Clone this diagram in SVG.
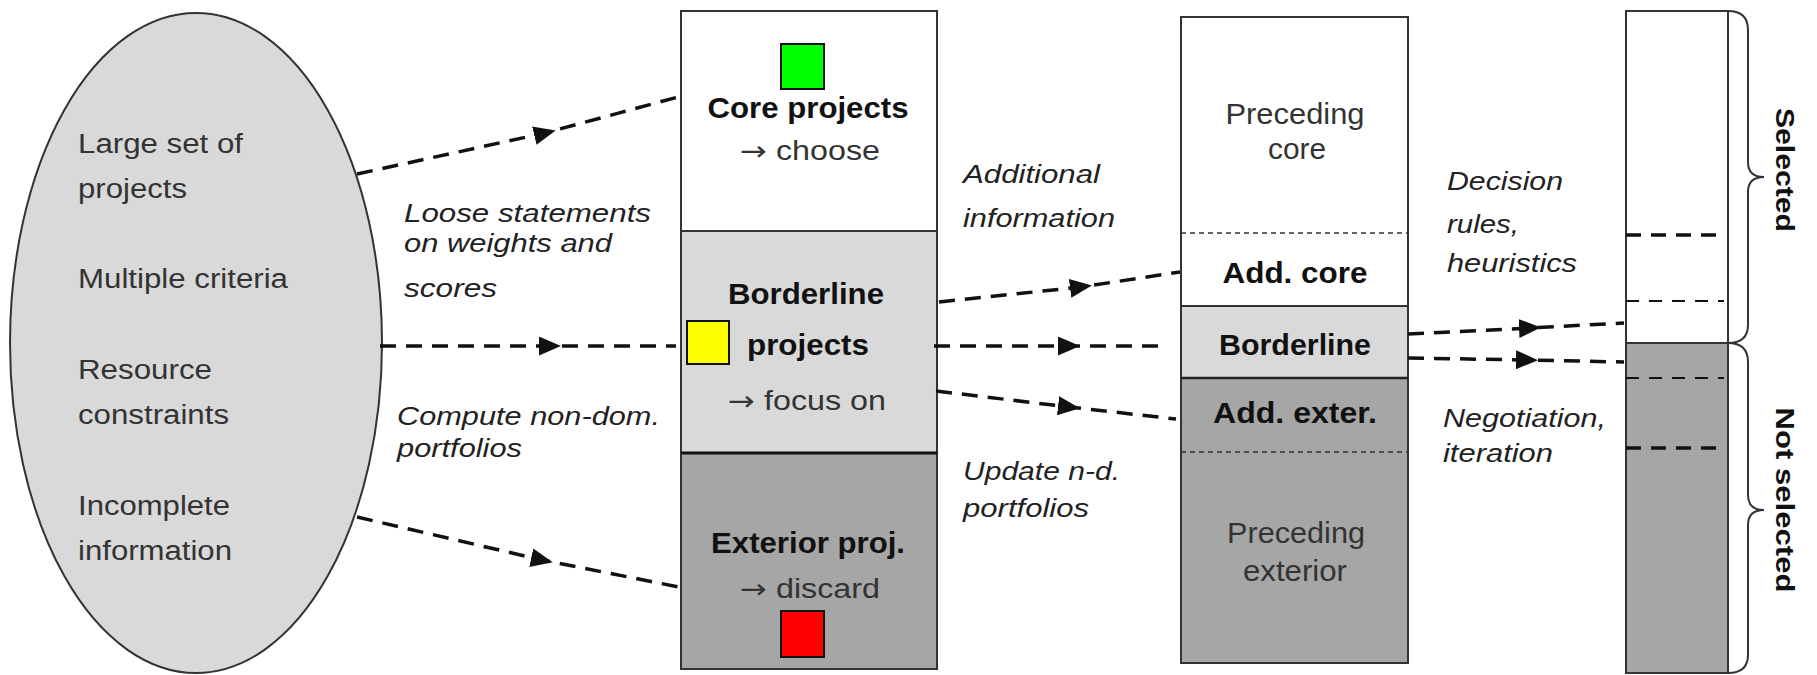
<svg xmlns="http://www.w3.org/2000/svg" width="1817" height="675" viewBox="0 0 1817 675">
<style>
.t{font-family:"Liberation Sans",Arial,sans-serif;font-size:27px;fill:#333}
.p{font-family:"Liberation Sans",Arial,sans-serif;font-size:30px;fill:#333}
.b{font-family:"Liberation Sans",Arial,sans-serif;font-size:30px;font-weight:bold;fill:#111}
.r{font-family:"Liberation Sans",Arial,sans-serif;font-size:26px;font-weight:bold;fill:#111}
.i{font-family:"Liberation Sans",Arial,sans-serif;font-size:25px;font-style:italic;fill:#222}
.ar{font-family:"DejaVu Sans",sans-serif}
.c{text-anchor:middle}
.box{stroke:#333;stroke-width:2}
.conn{fill:none;stroke:#111;stroke-width:3.5;stroke-dasharray:16 10}
.dot{stroke:#333;stroke-width:1.5;stroke-dasharray:5 4;fill:none}
.dk{stroke:#111;stroke-width:3.5;stroke-dasharray:15 10;fill:none}
.dt{stroke:#111;stroke-width:2;stroke-dasharray:13 10;fill:none}
.br{fill:none;stroke:#333;stroke-width:2}
</style>
<defs>
<marker id="ah" viewBox="0 0 10 10" refX="5" refY="5" markerWidth="22" markerHeight="19" markerUnits="userSpaceOnUse" orient="auto" preserveAspectRatio="none">
<path d="M0,0 L10,5 L0,10 Z" fill="#111"/>
</marker>
</defs>
<rect width="1817" height="675" fill="#fff"/>

<g id="ellipse">
<ellipse cx="196" cy="343" rx="186" ry="330" fill="#d9d9d9" stroke="#333" stroke-width="2"/>
<text class="t" x="78" y="153" textLength="165" lengthAdjust="spacingAndGlyphs">Large set of</text>
<text class="t" x="78" y="198" textLength="109" lengthAdjust="spacingAndGlyphs">projects</text>
<text class="t" x="78" y="288" textLength="210" lengthAdjust="spacingAndGlyphs">Multiple criteria</text>
<text class="t" x="78" y="379" textLength="134" lengthAdjust="spacingAndGlyphs">Resource</text>
<text class="t" x="78" y="424" textLength="151" lengthAdjust="spacingAndGlyphs">constraints</text>
<text class="t" x="78" y="515" textLength="152" lengthAdjust="spacingAndGlyphs">Incomplete</text>
<text class="t" x="78" y="560" textLength="154" lengthAdjust="spacingAndGlyphs">information</text>
</g>

<g id="core">
<rect class="box" x="681" y="11" width="256" height="220" fill="#fff"/>
<rect x="781" y="44" width="43" height="45" fill="#00ff00" stroke="#111" stroke-width="2"/>
<text class="b c" x="808" y="118" textLength="201" lengthAdjust="spacingAndGlyphs">Core projects</text>
<text class="t" x="740" y="160" textLength="140" lengthAdjust="spacingAndGlyphs"><tspan class="ar">→</tspan> choose</text>
</g>
<g id="borderline">
<rect class="box" x="681" y="231" width="256" height="222" fill="#d9d9d9"/>
<rect x="687" y="321" width="42" height="43" fill="#ffff00" stroke="#111" stroke-width="2"/>
<text class="b c" x="806" y="304" textLength="156" lengthAdjust="spacingAndGlyphs">Borderline</text>
<text class="b c" x="808" y="355" textLength="122" lengthAdjust="spacingAndGlyphs">projects</text>
<text class="t" x="728" y="410" textLength="158" lengthAdjust="spacingAndGlyphs"><tspan class="ar">→</tspan> focus on</text>
</g>
<g id="exterior">
<rect class="box" x="681" y="453" width="256" height="216" fill="#a6a6a6"/>
<line x1="681" y1="453" x2="937" y2="453" stroke="#111" stroke-width="3"/>
<rect x="781" y="611" width="43" height="46" fill="#ff0000" stroke="#111" stroke-width="2"/>
<text class="b c" x="808" y="553" textLength="194" lengthAdjust="spacingAndGlyphs">Exterior proj.</text>
<text class="t" x="740" y="598" textLength="140" lengthAdjust="spacingAndGlyphs"><tspan class="ar">→</tspan> discard</text>
</g>

<g id="preceding">
<rect x="1181" y="17" width="227" height="289" fill="#fff"/>
<rect x="1181" y="306" width="227" height="72" fill="#d9d9d9"/>
<rect x="1181" y="378" width="227" height="285" fill="#a6a6a6"/>
<rect class="box" x="1181" y="17" width="227" height="646" fill="none"/>
<line class="dot" x1="1181" y1="233" x2="1408" y2="233"/>
<line x1="1181" y1="306" x2="1408" y2="306" stroke="#333" stroke-width="2"/>
<line x1="1181" y1="378" x2="1408" y2="378" stroke="#222" stroke-width="2.5"/>
<line class="dot" x1="1181" y1="452" x2="1408" y2="452"/>
<text class="p c" x="1295" y="124" textLength="139" lengthAdjust="spacingAndGlyphs">Preceding</text>
<text class="p c" x="1297" y="159" textLength="58" lengthAdjust="spacingAndGlyphs">core</text>
<text class="b c" x="1295" y="283" textLength="145" lengthAdjust="spacingAndGlyphs">Add. core</text>
<text class="b c" x="1295" y="355" textLength="152" lengthAdjust="spacingAndGlyphs">Borderline</text>
<text class="b c" x="1295" y="423" textLength="164" lengthAdjust="spacingAndGlyphs">Add. exter.</text>
<text class="p c" x="1296" y="543" textLength="138" lengthAdjust="spacingAndGlyphs">Preceding</text>
<text class="p c" x="1295" y="581" textLength="104" lengthAdjust="spacingAndGlyphs">exterior</text>
</g>

<g id="final">
<rect x="1626" y="11" width="102" height="332" fill="#fff"/>
<rect x="1626" y="343" width="102" height="330" fill="#a6a6a6"/>
<rect class="box" x="1626" y="11" width="102" height="662" fill="none"/>
<line x1="1626" y1="343" x2="1728" y2="343" stroke="#333" stroke-width="2"/>
<line class="dk" x1="1626" y1="235" x2="1724" y2="235"/>
<line class="dt" x1="1626" y1="301" x2="1724" y2="301"/>
<line class="dt" x1="1626" y1="378" x2="1724" y2="378"/>
<line class="dk" x1="1626" y1="448" x2="1724" y2="448"/>
</g>

<g id="selected">
<path class="br" d="M1728,11 Q1748,11 1748,30 L1748,162 Q1748,177 1764,177 Q1748,177 1748,192 L1748,325 Q1748,343 1728,343"/>
<text class="r c" transform="translate(1776,170) rotate(90)" textLength="124" lengthAdjust="spacingAndGlyphs">Selected</text>
</g>
<g id="notselected">
<path class="br" d="M1728,343 Q1748,343 1748,362 L1748,495 Q1748,510 1764,510 Q1748,510 1748,525 L1748,655 Q1748,673 1728,673"/>
<text class="r c" transform="translate(1776,500) rotate(90)" textLength="185" lengthAdjust="spacingAndGlyphs">Not selected</text>
</g>

<g id="labels">
<text class="i" x="404" y="222" textLength="247" lengthAdjust="spacingAndGlyphs">Loose statements</text>
<text class="i" x="404" y="252" textLength="208" lengthAdjust="spacingAndGlyphs">on weights and</text>
<text class="i" x="404" y="297" textLength="93" lengthAdjust="spacingAndGlyphs">scores</text>
<text class="i" x="397" y="425" textLength="263" lengthAdjust="spacingAndGlyphs">Compute non-dom.</text>
<text class="i" x="397" y="457" textLength="125" lengthAdjust="spacingAndGlyphs">portfolios</text>
<text class="i" x="963" y="183" textLength="137" lengthAdjust="spacingAndGlyphs">Additional</text>
<text class="i" x="963" y="227" textLength="152" lengthAdjust="spacingAndGlyphs">information</text>
<text class="i" x="963" y="480" textLength="157" lengthAdjust="spacingAndGlyphs">Update n-d.</text>
<text class="i" x="963" y="517" textLength="126" lengthAdjust="spacingAndGlyphs">portfolios</text>
<text class="i" x="1447" y="190" textLength="116" lengthAdjust="spacingAndGlyphs">Decision</text>
<text class="i" x="1447" y="233" textLength="72" lengthAdjust="spacingAndGlyphs">rules,</text>
<text class="i" x="1447" y="272" textLength="130" lengthAdjust="spacingAndGlyphs">heuristics</text>
<text class="i" x="1443" y="427" textLength="163" lengthAdjust="spacingAndGlyphs">Negotiation,</text>
<text class="i" x="1443" y="462" textLength="110" lengthAdjust="spacingAndGlyphs">iteration</text>
</g>

<g id="connectors">
<path class="conn" marker-mid="url(#ah)" d="M357,174 L545,133 L678,97"/>
<path class="conn" marker-mid="url(#ah)" d="M380,346 L550,346 L676,346"/>
<path class="conn" marker-mid="url(#ah)" d="M357,517 L542,560 L679,587"/>
<path class="conn" marker-mid="url(#ah)" d="M939,302 L1081,287 L1180,272"/>
<path class="conn" marker-mid="url(#ah)" d="M934,346 L1069,346 L1162,346"/>
<path class="conn" marker-mid="url(#ah)" d="M936,391 L1069,407 L1176,419"/>
<path class="conn" marker-mid="url(#ah)" d="M1408,334 L1530,328 L1624,323"/>
<path class="conn" marker-mid="url(#ah)" d="M1408,358 L1527,360 L1624,362"/>
</g>
</svg>
